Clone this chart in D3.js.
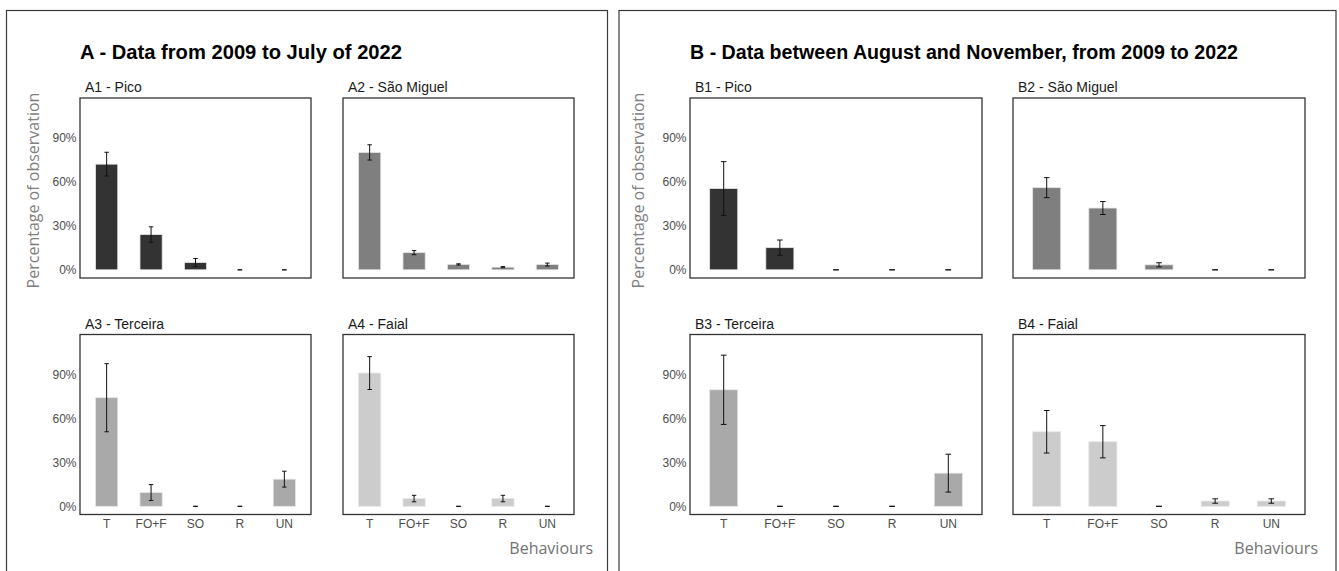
<!DOCTYPE html>
<html>
<head>
    <meta charset="UTF-8" />
    <title>Behaviours by island</title>
    <script src="https://d3js.org/d3.v7.min.js"></script>
    <style>
	body { margin: 0; background: #fff; }
	text { font-family: "Liberation Sans", Arial, sans-serif; }
	.soft { font-family: "Open Sans", sans-serif; }
	</style>
</head>
<body>
	<div id="chart"></div>

<script type="text/javascript">

	// categories and ticks
	var behaviours = ["T", "FO+F", "SO", "R", "UN"];
	var yTicks = [0, 30, 60, 90];

	// A - Data from 2009 to July of 2022 (percent, +/- error)
	var a1Pico = [72, 24, 5, 0, 0];
	var a1PicoErr = [8.1, 5.3, 2.7, 0, 0];
	var a2SaoMiguel = [80, 11.7, 3.7, 1.8, 3.6];
	var a2SaoMiguelErr = [5.2, 1.4, 0.4, 0.4, 1];
	var a3Terceira = [74, 9.4, 0, 0, 18.5];
	var a3TerceiraErr = [23.2, 5.4, 0, 0, 5.4];
	var a4Faial = [90.8, 5.3, 0, 5.3, 0];
	var a4FaialErr = [11.2, 2.2, 0, 2.2, 0];

	// B - Data between August and November, from 2009 to 2022
	var b1Pico = [55.4, 15.1, 0, 0, 0];
	var b1PicoErr = [18.3, 5.2, 0, 0, 0];
	var b2SaoMiguel = [56, 42.1, 3.4, 0, 0];
	var b2SaoMiguelErr = [6.8, 4.4, 1.4, 0, 0];
	var b3Terceira = [79.4, 0, 0, 0, 22.6];
	var b3TerceiraErr = [23.6, 0, 0, 0, 12.9];
	var b4Faial = [50.8, 44, 0, 3.6, 3.6];
	var b4FaialErr = [14.5, 11, 0, 1.5, 1.5];

	var islandFill = ["#333333", "#7f7f7f", "#a9a9a9", "#cccccc"];

	var groups = [
		{ title: "A - Data from 2009 to July of 2022", titleLen: 322, box: [6.5, 601], titleX: 80, axisTitleX: 33, cols: [80, 343], panelW: 231, behavX: 593,
		  panels: [
			{ name: "A1 - Pico", values: a1Pico, err: a1PicoErr },
			{ name: "A2 - São Miguel", values: a2SaoMiguel, err: a2SaoMiguelErr },
			{ name: "A3 - Terceira", values: a3Terceira, err: a3TerceiraErr },
			{ name: "A4 - Faial", values: a4Faial, err: a4FaialErr }
		  ] },
		{ title: "B - Data between August and November, from 2009 to 2022", titleLen: 548, box: [619, 717], titleX: 690, axisTitleX: 638, cols: [690, 1013], panelW: 292, behavX: 1318,
		  panels: [
			{ name: "B1 - Pico", values: b1Pico, err: b1PicoErr },
			{ name: "B2 - São Miguel", values: b2SaoMiguel, err: b2SaoMiguelErr },
			{ name: "B3 - Terceira", values: b3Terceira, err: b3TerceiraErr },
			{ name: "B4 - Faial", values: b4Faial, err: b4FaialErr }
		  ] }
	];

	var rows = [98, 334.5],
		panelH = 180;

	var svg = d3.select("div#chart")
		.append("svg")
			.attr("width", 1339)
			.attr("height", 571);

	// shared y scale (ggplot style 5% expansion)
	var yMax = 111.5;
	var y = d3.scaleLinear()
		.domain([-0.05 * yMax, 1.05 * yMax])
		.range([panelH, 0]);

	groups.forEach(function(g) {
		// outer frame
		svg.append("rect")
			.attr("x", g.box[0])
			.attr("y", 10.5)
			.attr("width", g.box[1])
			.attr("height", 600)
			.attr("fill", "none")
			.attr("stroke", "#3a3a3a")
			.attr("stroke-width", 1.2);

		svg.append("text")
			.attr("x", g.titleX)
			.attr("y", 59)
			.attr("textLength", g.titleLen)
			.attr("lengthAdjust", "spacingAndGlyphs")
			.style("font-size", "20px")
			.style("font-weight", "bold")
			.attr("fill", "#000")
			.text(g.title);

		svg.append("text")
			.attr("class", "soft")
			.attr("transform", "translate(" + g.axisTitleX + ",190.5) rotate(-90)")
			.attr("text-anchor", "middle")
			.attr("dy", "0.35em")
			.style("font-size", "16px")
			.attr("fill", "#7f7f7f")
			.text("Percentage of observation");

		svg.append("text")
			.attr("class", "soft")
			.attr("x", g.behavX)
			.attr("y", 554)
			.attr("text-anchor", "end")
			.style("font-size", "16px")
			.attr("fill", "#737373")
			.text("Behaviours");

		var x = d3.scaleBand()
			.domain(behaviours)
			.range([0, g.panelW])
			.paddingInner(0.5)
			.paddingOuter(0.35);
		var cap = x.bandwidth() * 0.2;

		g.panels.forEach(function(p, i) {
			var col = i % 2, row = Math.floor(i / 2);
			var panel = svg.append("g")
				.attr("transform", "translate(" + g.cols[col] + "," + rows[row] + ")");

			var data = behaviours.map(function(b, k) { return { b: b, v: p.values[k], e: p.err[k] }; });

			// bars
			panel.selectAll("rect.bar")
				.data(data.filter(function(d) { return d.v > 0; }))
				.enter()
				.append("rect")
					.attr("class", "bar")
					.attr("x", function(d) { return x(d.b); })
					.attr("y", function(d) { return y(d.v); })
					.attr("width", x.bandwidth())
					.attr("height", function(d) { return y(0) - y(d.v); })
					.attr("fill", islandFill[i])
					.attr("stroke", "#e6e6e6")
					.attr("stroke-width", 0.8);

			// error bars
			var eb = panel.selectAll("g.err")
				.data(data)
				.enter()
				.append("g")
					.attr("class", "err")
					.attr("transform", function(d) { return "translate(" + (x(d.b) + x.bandwidth() / 2) + ",0)"; })
					.attr("stroke", "#111")
					.attr("stroke-width", 1);
			eb.append("line")
				.attr("y1", function(d) { return y(d.v - d.e); })
				.attr("y2", function(d) { return y(d.v + d.e); });
			eb.append("line")
				.attr("x1", -cap / 2).attr("x2", cap / 2)
				.attr("y1", function(d) { return y(d.v + d.e); })
				.attr("y2", function(d) { return y(d.v + d.e); });
			eb.append("line")
				.attr("x1", -cap / 2).attr("x2", cap / 2)
				.attr("y1", function(d) { return y(d.v - d.e); })
				.attr("y2", function(d) { return y(d.v - d.e); });

			// panel border
			panel.append("rect")
				.attr("width", g.panelW)
				.attr("height", panelH)
				.attr("fill", "none")
				.attr("stroke", "#333")
				.attr("stroke-width", 1.3);

			panel.append("text")
				.attr("x", 5)
				.attr("y", -6)
				.style("font-size", "14px")
				.attr("fill", "#1a1a1a")
				.text(p.name);

			if (col == 0) {
				var ya = panel.append("g")
					.call(d3.axisLeft(y).tickValues(yTicks).tickSize(0).tickPadding(3.5)
						.tickFormat(function(d) { return d + "%"; }));
				ya.select(".domain").remove();
				ya.selectAll("text")
					.style("font-family", "'Liberation Sans', Arial, sans-serif")
					.style("font-size", "12px")
					.attr("fill", "#4d4d4d");
			}
			if (row == 1) {
				var xa = panel.append("g")
					.attr("transform", "translate(0," + panelH + ")")
					.call(d3.axisBottom(x).tickSize(0).tickPadding(5));
				xa.select(".domain").remove();
				xa.selectAll("text")
					.style("font-family", "'Liberation Sans', Arial, sans-serif")
					.style("font-size", "12px")
					.attr("fill", "#4d4d4d");
			}
		});
	});

</script>
</body>
</html>
